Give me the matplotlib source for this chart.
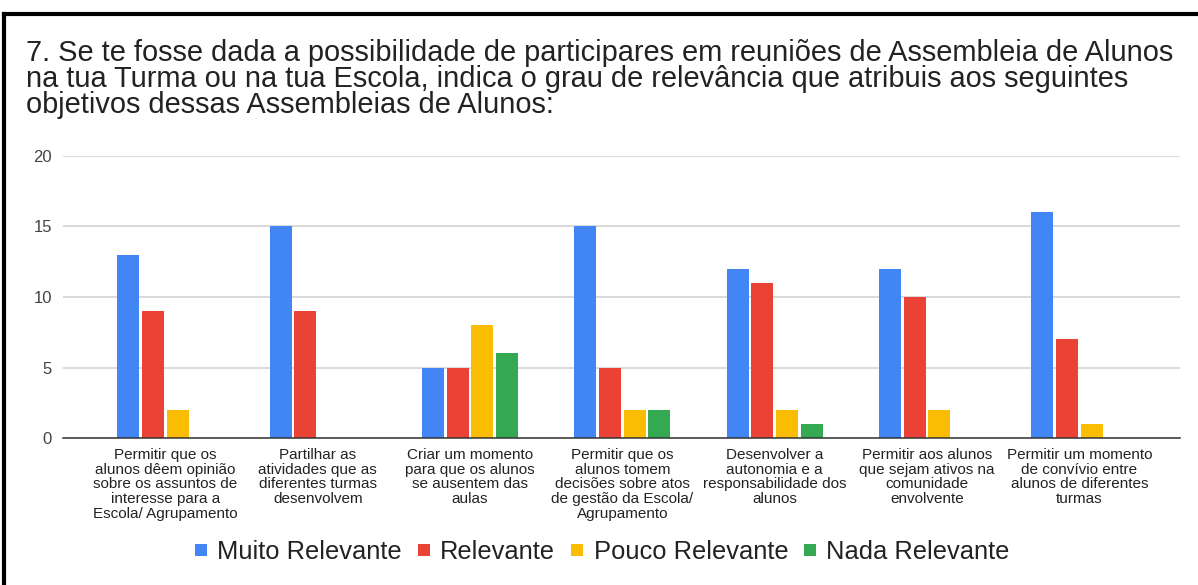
import matplotlib
matplotlib.use("Agg")
import matplotlib.pyplot as plt
from matplotlib.lines import Line2D
import numpy as np

plt.rcParams['font.family'] = ['Liberation Sans', 'DejaVu Sans']

categories = [
    "Permitir que os\nalunos dêem opinião\nsobre os assuntos de\ninteresse para a\nEscola/ Agrupamento",
    "Partilhar as\natividades que as\ndiferentes turmas\ndesenvolvem",
    "Criar um momento\npara que os alunos\nse ausentem das\naulas",
    "Permitir que os\nalunos tomem\ndecisões sobre atos\nde gestão da Escola/\nAgrupamento",
    "Desenvolver a\nautonomia e a\nresponsabilidade dos\nalunos",
    "Permitir aos alunos\nque sejam ativos na\ncomunidade\nenvolvente",
    "Permitir um momento\nde convívio entre\nalunos de diferentes\nturmas",
]
series_names = ["Muito Relevante", "Relevante", "Pouco Relevante", "Nada Relevante"]
muito = [13, 15, 5, 15, 12, 12, 16]
relevante = [9, 9, 5, 5, 11, 10, 7]
pouco = [2, 0, 8, 2, 2, 2, 1]
nada = [0, 0, 6, 2, 1, 0, 0]
yticks = [0, 5, 10, 15, 20]
title = ("7. Se te fosse dada a possibilidade de participares em reuniões de Assembleia de Alunos\n"
         "na tua Turma ou na tua Escola, indica o grau de relevância que atribuis aos seguintes\n"
         "objetivos dessas Assembleias de Alunos:")

colors = ["#4285F4", "#EA4335", "#FBBC04", "#34A853"]
series = [muito, relevante, pouco, nada]

W, H = 1198, 585
fig = plt.figure(figsize=(W / 100, H / 100), dpi=100)
ax = fig.add_axes([63 / W, 1 - 438 / H, (1180 - 63) / W, (438 - 156) / H])

x = np.arange(len(categories))
pitch = 0.162
width = 0.145
for i, (vals, c) in enumerate(zip(series, colors)):
    ax.bar(x + (i - 1.5) * pitch, vals, width=width, color=c, linewidth=0, zorder=3,
           label=series_names[i])

ax.set_xlim(-0.672, 6.66)
ax.set_ylim(0, 20)
ax.set_yticks(yticks)
ax.set_yticklabels([str(v) for v in yticks])
ax.set_xticks(x)
ax.set_xticklabels(categories, fontsize=11, color="#222222", linespacing=1.08)
ax.tick_params(axis='x', length=0, pad=7)
ax.tick_params(axis='y', length=0, pad=8, labelsize=12, labelcolor="#444444")
ax.grid(axis='y', color="#d0d0d0", linewidth=1.1, zorder=0)
for s in ['top', 'right', 'left']:
    ax.spines[s].set_visible(False)
ax.spines['bottom'].set_color("#333333")
ax.spines['bottom'].set_linewidth(1.1)
ax.spines['bottom'].set_zorder(4)

fig.text(26 / W, 1 - 39 / H, title, ha='left', va='top', fontsize=20.9,
         color="#222222", linespacing=0.9)

handles = [Line2D([0], [0], marker='s', linestyle='none', markersize=9,
                  markerfacecolor=c, markeredgewidth=0) for c in colors]
fig.legend(handles, series_names, loc='center', bbox_to_anchor=(0.502, 1 - 552 / H),
           ncol=4, frameon=False, fontsize=18.4, handlelength=0.6, handletextpad=0.35,
           columnspacing=0.55, labelcolor="#222222")

# frame lines of the screenshot
fig.add_artist(Line2D([4 / W, 1], [1 - 13.5 / H, 1 - 13.5 / H], color='black',
                      linewidth=3, transform=fig.transFigure))
fig.add_artist(Line2D([4 / W, 4 / W], [0, 1 - 13.5 / H], color='black',
                      linewidth=3, transform=fig.transFigure))

fig.savefig("out.png", dpi=100, facecolor="white")
